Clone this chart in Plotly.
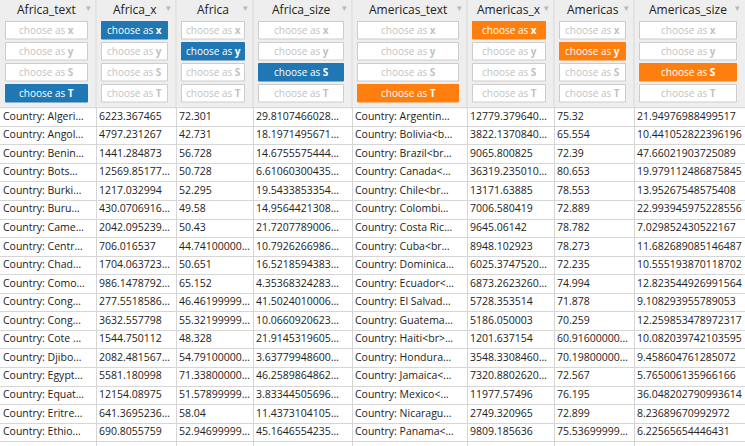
import plotly.graph_objects as go

W, H = 745, 446

# column titles and which role each column is bound to
columns = ["Africa_text", "Africa_x", "Africa", "Africa_size",
           "Americas_text", "Americas_x", "Americas", "Americas_size"]
roles = ["T", "x", "y", "S", "T", "x", "y", "S"]
role_colors = ["#1f77b4"] * 4 + ["#ff7f0e"] * 4
col_widths = [96, 80, 77, 99, 115, 87, 80, 111]
button_labels = ["x", "y", "S", "T"]

africa_text = ["Country: Algeri…", "Country: Angol…", "Country: Benin…", "Country: Bots…",
               "Country: Burki…", "Country: Buru…", "Country: Came…", "Country: Centr…",
               "Country: Chad…", "Country: Como…", "Country: Cong…", "Country: Cong…",
               "Country: Cote …", "Country: Djibo…", "Country: Egypt…", "Country: Equat…",
               "Country: Eritre…", "Country: Ethio…"]
africa_x = ["6223.367465", "4797.231267", "1441.284873", "12569.85177…", "1217.032994",
            "430.0706916…", "2042.095239…", "706.016537", "1704.063723…", "986.1478792…",
            "277.5518586…", "3632.557798", "1544.750112", "2082.481567…", "5581.180998",
            "12154.08975", "641.3695236…", "690.8055759"]
africa = ["72.301", "42.731", "56.728", "50.728", "52.295", "49.58", "50.43", "44.74100000…",
          "50.651", "65.152", "46.46199999…", "55.32199999…", "48.328", "54.79100000…",
          "71.33800000…", "51.57899999…", "58.04", "52.94699999…"]
africa_size = ["29.8107466028…", "18.1971495671…", "14.6755575444…", "6.61060300435…",
               "19.5433853354…", "14.9564421308…", "21.7207789006…", "10.7926266986…",
               "16.5218594383…", "4.35368324283…", "41.5024010006…", "10.0660920623…",
               "21.9145319605…", "3.63779948600…", "46.2589864862…", "3.83344505696…",
               "11.4373104105…", "45.1646554235…"]
americas_text = ["Country: Argentin…", "Country: Bolivia&lt;b…", "Country: Brazil&lt;br…",
                 "Country: Canada&lt;…", "Country: Chile&lt;br…", "Country: Colombi…",
                 "Country: Costa Ric…", "Country: Cuba&lt;br…", "Country: Dominica…",
                 "Country: Ecuador&lt;…", "Country: El Salvad…", "Country: Guatema…",
                 "Country: Haiti&lt;br&gt;…", "Country: Hondura…", "Country: Jamaica&lt;…",
                 "Country: Mexico&lt;…", "Country: Nicaragu…", "Country: Panama&lt;…"]
americas_x = ["12779.379640…", "3822.1370840…", "9065.800825", "36319.235010…", "13171.63885",
              "7006.580419", "9645.06142", "8948.102923", "6025.3747520…", "6873.2623260…",
              "5728.353514", "5186.050003", "1201.637154", "3548.3308460…", "7320.8802620…",
              "11977.57496", "2749.320965", "9809.185636"]
americas = ["75.32", "65.554", "72.39", "80.653", "78.553", "72.889", "78.782", "78.273",
            "72.235", "74.994", "71.878", "70.259", "60.91600000…", "70.19800000…", "72.567",
            "76.195", "72.899", "75.53699999…"]
americas_size = ["21.94976988499517", "10.441052822396196", "47.66021903725089",
                 "19.979112486875845", "13.95267548575408", "22.993945975228556",
                 "7.029852430522167", "11.682689085146487", "10.555193870118702",
                 "12.823544926991564", "9.108293955789053", "12.259853478972317",
                 "10.082039742103595", "9.458604761285072", "5.765006135966166",
                 "36.048202790993614", "8.23689670992972", "6.22565654446431"]

HEAD_H = 107.7
ROW_H = 18.56
FONT = "Open Sans, sans-serif"
GRID = "#d6d6d6"

table = [africa_text, africa_x, africa, africa_size,
         americas_text, americas_x, americas, americas_size]
n_rows = len(africa_text)

edges = [0]
for w in col_widths:
    edges.append(edges[-1] + w)
row_edges = [HEAD_H + k * ROW_H for k in range(n_rows + 2)]
row_mid = [HEAD_H + (k + 0.5) * ROW_H for k in range(n_rows)]

fig = go.Figure()
for i, values in enumerate(table):
    fig.add_trace(go.Scatter(
        x=[edges[i] + 3] * n_rows, y=row_mid, text=values,
        mode="text", textposition="middle right",
        textfont=dict(family=FONT, size=10.5, color="#222"),
        hoverinfo="skip", showlegend=False, cliponaxis=False,
    ))

shapes = []
annotations = []
# grey header band sits above the grid lines
shapes.append(dict(type="rect", xref="x", yref="y", x0=0, x1=W, y0=HEAD_H, y1=0,
                   fillcolor="#eeeeee", line_width=0, layer="above"))
shapes.append(dict(type="line", xref="x", yref="y", x0=0, x1=W, y0=HEAD_H, y1=HEAD_H,
                   line=dict(color=GRID, width=1), layer="above"))

for i, name in enumerate(columns):
    left, right = edges[i], edges[i + 1]
    if i > 0:
        shapes.append(dict(type="line", xref="x", yref="y", x0=left, x1=left, y0=0, y1=HEAD_H,
                           line=dict(color="#d9d9d9", width=1), layer="above"))
    annotations.append(dict(xref="x", yref="y", x=(left + right - 3) / 2, y=9,
                            text=name, showarrow=False, xanchor="center", yanchor="middle",
                            font=dict(family=FONT, size=12, color="#222")))
    annotations.append(dict(xref="x", yref="y", x=right - 8, y=8,
                            text="▾", showarrow=False, xanchor="center", yanchor="middle",
                            font=dict(family="DejaVu Sans", size=9, color="#b8b8b8")))
    for j, lab in enumerate(button_labels):
        top = 21 + j * 21
        selected = lab == roles[i]
        shapes.append(dict(type="rect", xref="x", yref="y",
                           x0=left + 5.5, x1=right - 8.5, y0=top + 0.5, y1=top + 18,
                           fillcolor=role_colors[i] if selected else "white",
                           line=dict(color=role_colors[i] if selected else "#cccccc", width=1),
                           layer="above"))
        annotations.append(dict(xref="x", yref="y", x=(left + right - 3) / 2, y=top + 9.2,
                                text="choose as <b>%s</b>" % lab, showarrow=False,
                                xanchor="center", yanchor="middle",
                                font=dict(family=FONT, size=10,
                                          color="white" if selected else "#c2c2c2")))

fig.update_layout(
    width=W, height=H,
    margin=dict(l=0, r=0, t=0, b=0),
    paper_bgcolor="white",
    plot_bgcolor="white",
    xaxis=dict(range=[0, W], tickvals=edges[1:], showgrid=True, gridcolor=GRID, gridwidth=1,
               showticklabels=False, zeroline=False, ticks="", fixedrange=True),
    yaxis=dict(range=[H, 0], tickvals=row_edges, showgrid=True, gridcolor=GRID, gridwidth=1,
               showticklabels=False, zeroline=False, ticks="", fixedrange=True),
    shapes=shapes,
    annotations=annotations,
)

fig.write_html("out.html", config={"displayModeBar": False},
               post_script="document.body.style.margin='0';")
